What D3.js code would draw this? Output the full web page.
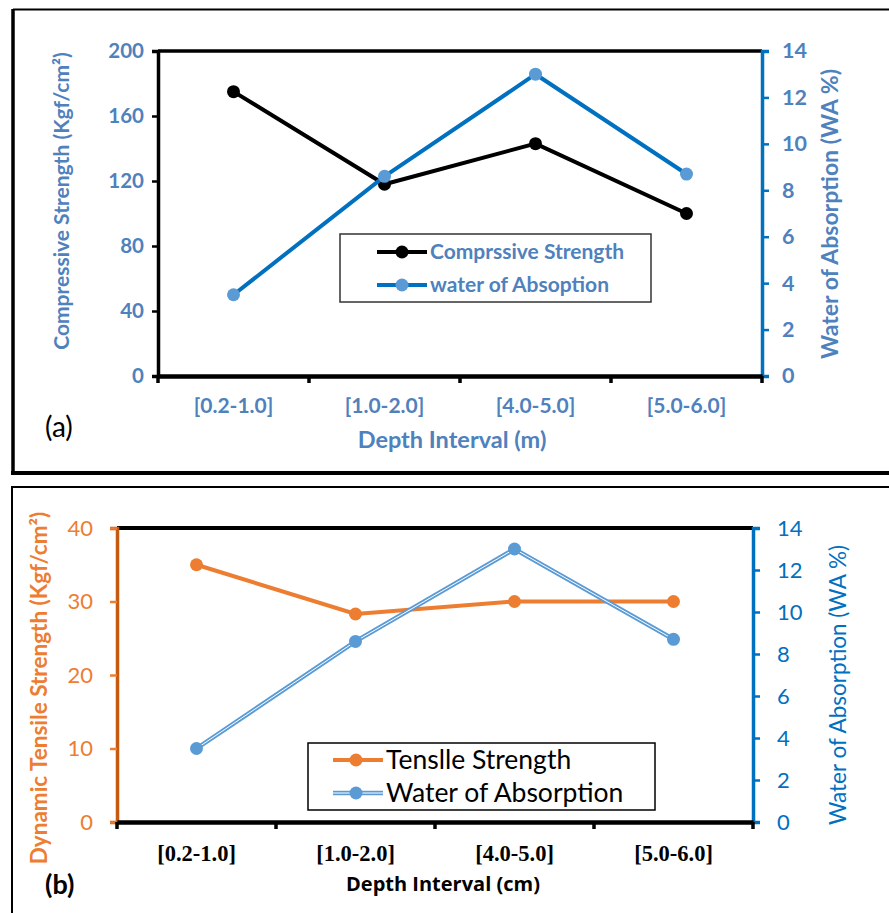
<!DOCTYPE html>
<html>
<head>
<meta charset="utf-8">
<script src="https://cdn.jsdelivr.net/npm/d3@7"></script>
<style>
  html, body { margin: 0; padding: 0; background: #fff; }
  svg { display: block; }
</style>
</head>
<body>
<svg id="chart" width="889" height="913"></svg>
<script>
// Depth intervals shared by both panels
const depthIntervals = ["[0.2-1.0]", "[1.0-2.0]", "[4.0-5.0]", "[5.0-6.0]"];

// Panel (a)
const compressiveStrength = [175, 118, 143, 100];
const waterAbsorptionA = [3.5, 8.6, 13, 8.7];
const compressiveTicks = [0, 40, 80, 120, 160, 200];
const waTicks = [0, 2, 4, 6, 8, 10, 12, 14];

// Panel (b)
const tensileStrength = [35, 28.3, 30, 30];
const waterAbsorptionB = [3.5, 8.6, 13, 8.7];
const tensileTicks = [0, 10, 20, 30, 40];

const svg = d3.select("#chart");
const SANS = "Lato, 'Open Sans', sans-serif";
const OPEN = "'Open Sans', Lato, sans-serif";
const SERIF = "'Liberation Serif', 'Times New Roman', serif";

// ---------- Panel frames ----------
svg.append("line").attr("x1", 13).attr("x2", 889).attr("y1", 9.5).attr("y2", 9.5)
  .attr("stroke", "#000").attr("stroke-width", 2);
svg.append("line").attr("x1", 13).attr("x2", 13).attr("y1", 9).attr("y2", 474)
  .attr("stroke", "#000").attr("stroke-width", 3.5);
svg.append("line").attr("x1", 11).attr("x2", 889).attr("y1", 473).attr("y2", 473)
  .attr("stroke", "#000").attr("stroke-width", 4);

svg.append("line").attr("x1", 11).attr("x2", 889).attr("y1", 487).attr("y2", 487)
  .attr("stroke", "#000").attr("stroke-width", 2);
svg.append("line").attr("x1", 12).attr("x2", 12).attr("y1", 486).attr("y2", 913)
  .attr("stroke", "#000").attr("stroke-width", 2);

// ---------- Panel (a) ----------
(function panelA() {
  const L = 158, R = 762, T = 51, B = 376;
  const blueText = "#4F81BD";
  const x = d3.scaleBand().domain(depthIntervals).range([L, R]);
  const yL = d3.scaleLinear().domain([0, 200]).range([B, T]);
  const yR = d3.scaleLinear().domain([0, 14]).range([B, T]);
  const g = svg.append("g");

  // plot-area top edge
  g.append("line").attr("x1", L).attr("x2", R).attr("y1", T).attr("y2", T)
    .attr("stroke", "#000").attr("stroke-width", 3.5);

  // left axis
  const axL = g.append("g").attr("transform", `translate(${L},0)`)
    .call(d3.axisLeft(yL).tickValues(compressiveTicks).tickSize(6).tickPadding(8));
  axL.select(".domain").attr("stroke", "#000").attr("stroke-width", 3.5);
  axL.selectAll(".tick line").attr("stroke", "#000").attr("stroke-width", 2.5);
  axL.selectAll(".tick text").attr("fill", blueText).attr("font-family", SANS)
    .attr("font-weight", "bold").attr("font-size", 20.5);

  // right axis
  const axR = g.append("g").attr("transform", `translate(${R},0)`)
    .call(d3.axisRight(yR).tickValues(waTicks).tickSize(7).tickPadding(13));
  axR.select(".domain").attr("stroke", "#0070C0").attr("stroke-width", 3.5);
  axR.selectAll(".tick line").attr("stroke", "#0070C0").attr("stroke-width", 2.5);
  axR.selectAll(".tick text").attr("fill", blueText).attr("font-family", SANS)
    .attr("font-weight", "bold").attr("font-size", 21.5);

  // bottom axis
  const axB = g.append("g").attr("transform", `translate(0,${B})`)
    .call(d3.axisBottom(x).tickSize(0).tickPadding(22));
  axB.select(".domain").attr("stroke", "#000").attr("stroke-width", 4.5);
  axB.selectAll(".tick text").attr("fill", blueText).attr("font-family", SANS)
    .attr("font-weight", "bold").attr("font-size", 21);
  // category separator ticks
  const sep = [L, ...depthIntervals.map(d => x(d) + x.bandwidth())];
  g.selectAll("line.sep").data(sep).join("line").attr("class", "sep")
    .attr("x1", d => d).attr("x2", d => d).attr("y1", B).attr("y2", B + 7)
    .attr("stroke", "#000").attr("stroke-width", 3.5);

  // series
  const cx = d => x(d) + x.bandwidth() / 2;
  const lineL = d3.line().x((d, i) => cx(depthIntervals[i])).y(d => yL(d));
  const lineR = d3.line().x((d, i) => cx(depthIntervals[i])).y(d => yR(d));

  g.append("path").datum(compressiveStrength).attr("d", lineL)
    .attr("fill", "none").attr("stroke", "#000").attr("stroke-width", 4);
  g.selectAll("circle.cs").data(compressiveStrength).join("circle").attr("class", "cs")
    .attr("cx", (d, i) => cx(depthIntervals[i])).attr("cy", d => yL(d)).attr("r", 6.5)
    .attr("fill", "#000");

  g.append("path").datum(waterAbsorptionA).attr("d", lineR)
    .attr("fill", "none").attr("stroke", "#0070C0").attr("stroke-width", 4);
  g.selectAll("circle.wa").data(waterAbsorptionA).join("circle").attr("class", "wa")
    .attr("cx", (d, i) => cx(depthIntervals[i])).attr("cy", d => yR(d)).attr("r", 6.5)
    .attr("fill", "#5B9BD5");

  // axis titles
  g.append("text").attr("transform", "translate(69,201) rotate(-90)")
    .attr("text-anchor", "middle").attr("fill", blueText).attr("font-family", SANS)
    .attr("font-weight", "bold").attr("font-size", 21)
    .text("Compressive Strength (Kgf/cm²)");
  g.append("text").attr("transform", "translate(838,214) rotate(-90)")
    .attr("text-anchor", "middle").attr("fill", blueText).attr("font-family", SANS)
    .attr("font-weight", "bold").attr("font-size", 23)
    .text("Water of Absorption (WA %)");
  g.append("text").attr("x", 452).attr("y", 448).attr("text-anchor", "middle")
    .attr("fill", blueText).attr("font-family", SANS).attr("font-weight", "bold")
    .attr("font-size", 23.5).text("Depth Interval (m)");
  g.append("text").attr("x", 45).attr("y", 437).attr("fill", "#000")
    .attr("font-family", SANS).attr("font-size", 28).text("(a)");

  // legend
  const lg = g.append("g");
  lg.append("rect").attr("x", 340).attr("y", 234).attr("width", 311).attr("height", 68)
    .attr("fill", "#fff").attr("stroke", "#333").attr("stroke-width", 1.5);
  const items = [
    { label: "Comprssive Strength", line: "#000", dot: "#000", y: 252 },
    { label: "water of Absoption", line: "#0070C0", dot: "#5B9BD5", y: 285 }
  ];
  items.forEach(it => {
    lg.append("line").attr("x1", 377).attr("x2", 427).attr("y1", it.y).attr("y2", it.y)
      .attr("stroke", it.line).attr("stroke-width", 4);
    lg.append("circle").attr("cx", 402).attr("cy", it.y).attr("r", 6.5).attr("fill", it.dot);
    lg.append("text").attr("x", 430).attr("y", it.y + 7).attr("fill", blueText)
      .attr("font-family", SANS).attr("font-weight", "bold").attr("font-size", 21)
      .text(it.label);
  });
})();

// ---------- Panel (b) ----------
(function panelB() {
  const L = 117, R = 753, T = 528, B = 822;
  const orange = "#ED7D31";
  const blue = "#0070C0";
  const x = d3.scaleBand().domain(depthIntervals).range([L, R]);
  const yL = d3.scaleLinear().domain([0, 40]).range([B, T]);
  const yR = d3.scaleLinear().domain([0, 14]).range([B, T]);
  const g = svg.append("g");

  g.append("line").attr("x1", L).attr("x2", R).attr("y1", T).attr("y2", T)
    .attr("stroke", "#000").attr("stroke-width", 4);

  const axL = g.append("g").attr("transform", `translate(${L},0)`)
    .call(d3.axisLeft(yL).tickValues(tensileTicks).tickSize(7).tickPadding(17));
  axL.select(".domain").attr("stroke", "#C55A11").attr("stroke-width", 3.5);
  axL.selectAll(".tick line").attr("stroke", orange).attr("stroke-width", 2.5);
  axL.selectAll(".tick text").attr("fill", orange).attr("font-family", SANS)
    .attr("font-size", 22);

  const axR = g.append("g").attr("transform", `translate(${R},0)`)
    .call(d3.axisRight(yR).tickValues(waTicks).tickSize(7).tickPadding(17));
  axR.select(".domain").attr("stroke", blue).attr("stroke-width", 3.5);
  axR.selectAll(".tick line").attr("stroke", blue).attr("stroke-width", 2.5);
  axR.selectAll(".tick text").attr("fill", blue).attr("font-family", SANS)
    .attr("font-size", 22);

  const axB = g.append("g").attr("transform", `translate(0,${B})`)
    .call(d3.axisBottom(x).tickSize(0).tickPadding(23));
  axB.select(".domain").attr("stroke", "#000").attr("stroke-width", 4.5);
  axB.selectAll(".tick text").attr("fill", "#000").attr("font-family", SERIF)
    .attr("font-weight", "bold").attr("font-size", 22.5);
  const sep = [L, ...depthIntervals.map(d => x(d) + x.bandwidth())];
  g.selectAll("line.sep").data(sep).join("line").attr("class", "sep")
    .attr("x1", d => d).attr("x2", d => d).attr("y1", B).attr("y2", B + 7)
    .attr("stroke", "#000").attr("stroke-width", 3.5);

  const cx = d => x(d) + x.bandwidth() / 2;
  const lineL = d3.line().x((d, i) => cx(depthIntervals[i])).y(d => yL(d));
  const lineR = d3.line().x((d, i) => cx(depthIntervals[i])).y(d => yR(d));

  g.append("path").datum(tensileStrength).attr("d", lineL)
    .attr("fill", "none").attr("stroke", orange).attr("stroke-width", 4);
  g.selectAll("circle.ts").data(tensileStrength).join("circle").attr("class", "ts")
    .attr("cx", (d, i) => cx(depthIntervals[i])).attr("cy", d => yL(d)).attr("r", 6.5)
    .attr("fill", orange);

  // double-stroke water line
  g.append("path").datum(waterAbsorptionB).attr("d", lineR)
    .attr("fill", "none").attr("stroke", "#5B9BD5").attr("stroke-width", 4.5);
  g.append("path").datum(waterAbsorptionB).attr("d", lineR)
    .attr("fill", "none").attr("stroke", "#fff").attr("stroke-width", 1);
  g.selectAll("circle.wb").data(waterAbsorptionB).join("circle").attr("class", "wb")
    .attr("cx", (d, i) => cx(depthIntervals[i])).attr("cy", d => yR(d)).attr("r", 6.5)
    .attr("fill", "#5B9BD5");

  g.append("text").attr("transform", "translate(47,688) rotate(-90)")
    .attr("text-anchor", "middle").attr("fill", orange).attr("font-family", SANS)
    .attr("font-weight", "bold").attr("font-size", 22.5)
    .text("Dynamic Tensile Strength (Kgf/cm²)");
  g.append("text").attr("transform", "translate(846,685) rotate(-90)")
    .attr("text-anchor", "middle").attr("fill", blue).attr("font-family", SANS)
    .attr("font-size", 22.5)
    .text("Water of Absorption (WA %)");
  g.append("text").attr("x", 443).attr("y", 891).attr("text-anchor", "middle")
    .attr("fill", "#000").attr("font-family", OPEN).attr("font-weight", "bold")
    .attr("font-size", 20).text("Depth Interval (cm)");
  g.append("text").attr("x", 45).attr("y", 894).attr("fill", "#000")
    .attr("font-family", SANS).attr("font-weight", "bold")
    .attr("font-size", 27).text("(b)");

  const lg = g.append("g");
  lg.append("rect").attr("x", 308).attr("y", 743).attr("width", 347).attr("height", 67)
    .attr("fill", "#fff").attr("stroke", "#000").attr("stroke-width", 1.5);
  const items = [
    { label: "Tenslle Strength", color: orange, dbl: false, y: 760 },
    { label: "Water of Absorption", color: "#5B9BD5", dbl: true, y: 793 }
  ];
  items.forEach(it => {
    lg.append("line").attr("x1", 333).attr("x2", 383).attr("y1", it.y).attr("y2", it.y)
      .attr("stroke", it.color).attr("stroke-width", it.dbl ? 4.5 : 4);
    if (it.dbl) {
      lg.append("line").attr("x1", 333).attr("x2", 383).attr("y1", it.y).attr("y2", it.y)
        .attr("stroke", "#fff").attr("stroke-width", 1);
    }
    lg.append("circle").attr("cx", 356).attr("cy", it.y).attr("r", 6.5).attr("fill", it.color);
    lg.append("text").attr("x", 386).attr("y", it.y + 9).attr("fill", "#000")
      .attr("font-family", SANS).attr("font-size", 26.5).text(it.label);
  });
})();
</script>
</body>
</html>
